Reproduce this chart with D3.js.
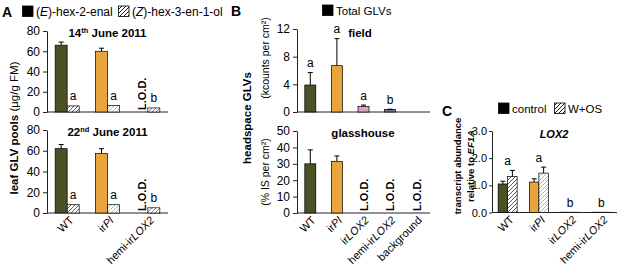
<!DOCTYPE html>
<html>
<head>
<meta charset="utf-8">
<script src="https://cdn.jsdelivr.net/npm/d3@7"></script>
<style>
  body { margin: 0; background: #fff; }
  svg { display: block; font-family: "Liberation Sans", Arial, sans-serif; }
</style>
</head>
<body>
<div id="chart"></div>
<script>
// ---------- data ----------
// Panel A: leaf GLV pools, null = below limit of detection
const genotypesA = ["WT", "irPI", "hemi-irLOX2"];
const enal14 = [66, 60, null];
const enal14Err = [3, 3, null];
const enol14 = [6, 6.5, 4];
const enal22 = [62, 57.5, null];
const enal22Err = [4, 4.5, null];
const enol22 = [8, 8, 5];
const lettersA = ["a", "a", "b"];
const ticksA = [0, 20, 40, 60, 80];

// Panel B: headspace GLVs
const genotypesB = ["WT", "irPI", "irLOX2", "hemi-irLOX2", "background"];
const fieldGLV = [3.9, 6.7, 0.8, 0.35, null];
const fieldErr = [1.8, 3.9, 0.2, 0.05, null];
const fieldLetters = ["a", "a", "a", "b", ""];
const glassGLV = [30, 31.5, null, null, null];
const glassErr = [8.5, 3.3, null, null, null];
const ticksField = [0, 4, 8, 12];
const ticksGlass = [0, 10, 20, 30, 40, 50];

// Panel C: LOX2 transcripts
const genotypesC = ["WT", "irPI", "irLOX2", "hemi-irLOX2"];
const lox2Control = [1.05, 1.12, 0.01, 0.01];
const lox2ControlErr = [0.1, 0.12, 0, 0];
const lox2WOS = [1.33, 1.45, 0.01, 0.01];
const lox2WOSErr = [0.22, 0.22, 0, 0];
const lettersC = ["a", "a", "b", "b"];
const ticksC = [0, 1, 2, 3];

const colors = {
  "WT": "#4b5125",
  "irPI": "#e8a53e",
  "irLOX2": "#d9a3c1",
  "hemi-irLOX2": "#7a7197",
  "background": "#999999"
};

// ---------- setup ----------
const svg = d3.select("#chart").append("svg")
  .attr("width", 617)
  .attr("height", 271);

svg.append("rect").attr("width", 617).attr("height", 271).attr("fill", "#fff");

const defs = svg.append("defs");

// diagonal hatch pattern in a given colour
function hatchId(color) {
  const id = "hatch" + color.replace("#", "");
  if (defs.select("#" + id).empty()) {
    const p = defs.append("pattern")
      .attr("id", id)
      .attr("patternUnits", "userSpaceOnUse")
      .attr("width", 4)
      .attr("height", 4);
    p.append("rect").attr("width", 4).attr("height", 4).attr("fill", "#fff");
    p.append("path")
      .attr("d", "M-1,1 l2,-2 M0,4 l4,-4 M3,5 l2,-2")
      .attr("stroke", color)
      .attr("stroke-width", 0.9);
  }
  return `url(#${id})`;
}

// split "irPI" etc. into plain + italic pieces
function labelParts(name) {
  const m = name.match(/^(.*ir)(PI|LOX2)$/);
  return m ? [[m[1], false], [m[2], true]] : [[name, false]];
}

function yAxis(y, x0, ticks, size, tick, pad) {
  const g = svg.append("g")
    .attr("transform", `translate(${x0},0)`)
    .call(d3.axisLeft(y).tickValues(ticks).tickSize(tick).tickSizeOuter(0).tickPadding(pad));
  g.attr("font-family", null).attr("font-size", null);
  g.selectAll("text").attr("font-size", size).attr("fill", "#000");
  g.selectAll("line,path").attr("stroke", "#222");
}

function baseline(x, y) {
  svg.append("line")
    .attr("x1", x.range()[0]).attr("x2", x.range()[1])
    .attr("y1", y(0)).attr("y2", y(0))
    .attr("stroke", "#222");
}

function bars(x, y, names, values, offset, w, fillFn) {
  svg.append("g").selectAll("rect")
    .data(names.map((n, i) => ({n, v: values[i]})).filter(d => d.v !== null))
    .join("rect")
    .attr("x", d => x(d.n) + x.bandwidth() / 2 + offset)
    .attr("width", w)
    .attr("y", d => y(d.v))
    .attr("height", d => y(0) - y(d.v))
    .attr("fill", d => fillFn(d.n))
    .attr("stroke", "#000")
    .attr("stroke-width", 0.7);
}

function errorBars(x, y, names, values, errs, offset) {
  const data = names.map((n, i) => ({n, v: values[i], e: errs[i]}))
    .filter(d => d.v !== null && d.e);
  const g = svg.append("g").attr("stroke", "#000").attr("stroke-width", 1);
  g.selectAll(".stem").data(data).join("line")
    .attr("x1", d => x(d.n) + x.bandwidth() / 2 + offset)
    .attr("x2", d => x(d.n) + x.bandwidth() / 2 + offset)
    .attr("y1", d => y(d.v)).attr("y2", d => y(d.v + d.e));
  g.selectAll(".cap").data(data).join("line")
    .attr("x1", d => x(d.n) + x.bandwidth() / 2 + offset - 2.5)
    .attr("x2", d => x(d.n) + x.bandwidth() / 2 + offset + 2.5)
    .attr("y1", d => y(d.v + d.e)).attr("y2", d => y(d.v + d.e));
}

function letters(x, y, names, lets, tops, offset) {
  svg.append("g").selectAll("text")
    .data(names.map((n, i) => ({n, t: lets[i], top: tops[i]})).filter(d => d.t))
    .join("text")
    .attr("x", d => x(d.n) + x.bandwidth() / 2 + offset)
    .attr("y", d => y(d.top) - 5.5)
    .attr("text-anchor", "middle")
    .attr("font-size", 12)
    .text(d => d.t);
}

// rotated "L.O.D." where a value is missing
function lod(x, y, names, values, offset, skip) {
  svg.append("g").selectAll("text")
    .data(names.filter((n, i) => values[i] === null && n !== skip))
    .join("text")
    .attr("transform", d => `translate(${x(d) + x.bandwidth() / 2 + offset + 4},${y(0) - 2}) rotate(-90)`)
    .attr("font-size", 11)
    .attr("font-weight", "bold")
    .text("L.O.D.");
}

function xLabels(x, y, names, dx) {
  const t = svg.append("g").selectAll("text")
    .data(names)
    .join("text")
    .attr("transform", d => `translate(${x(d) + x.bandwidth() / 2 + dx},${y(0) + 8}) rotate(-45)`)
    .attr("text-anchor", "end")
    .attr("font-size", 11);
  t.each(function (d) {
    labelParts(d).forEach(([s, it]) => {
      d3.select(this).append("tspan").attr("font-style", it ? "italic" : null).text(s);
    });
  });
}

function title(x, y, parts, size) {
  const t = svg.append("text").attr("x", x).attr("y", y)
    .attr("text-anchor", "middle").attr("font-size", size).attr("font-weight", "bold");
  parts.forEach(([s, sup]) => {
    t.append("tspan")
      .attr("font-size", sup ? size * 0.65 : null)
      .attr("dy", sup ? -4 : (sup === false ? 4 : 0))
      .text(s);
  });
}

function vText(x, y, parts, size) {
  const t = svg.append("text")
    .attr("transform", `translate(${x},${y}) rotate(-90)`)
    .attr("text-anchor", "middle")
    .attr("font-size", size);
  parts.forEach(([s, bold, it]) => {
    t.append("tspan")
      .attr("font-weight", bold ? "bold" : null)
      .attr("font-style", it ? "italic" : null)
      .text(s);
  });
}

function panelLabel(x, y, s) {
  svg.append("text").attr("x", x).attr("y", y)
    .attr("font-size", 14).attr("font-weight", "bold").text(s);
}

function legendBox(x, y, fill, label, size, italicFirst) {
  svg.append("rect").attr("x", x).attr("y", y).attr("width", 10.5).attr("height", 10.5)
    .attr("fill", fill).attr("stroke", "#000").attr("stroke-width", 0.8);
  const t = svg.append("text").attr("x", x + 13.5).attr("y", y + 10).attr("font-size", size);
  if (italicFirst) {
    t.append("tspan").text("(");
    t.append("tspan").attr("font-style", "italic").text(italicFirst);
    t.append("tspan").text(label);
  } else {
    t.text(label);
  }
}

// ---------- panel A ----------
const xA = d3.scaleBand().domain(genotypesA).range([47, 168]);
const yA1 = d3.scaleLinear().domain([0, 80]).range([112, 31]);
const yA2 = d3.scaleLinear().domain([0, 80]).range([213, 130]);
const wA = 12;

panelLabel(2, 17, "A");
legendBox(22.5, 6, "#000", ")-hex-2-enal", 12, "E");
legendBox(118.5, 6, hatchId("#000"), ")-hex-3-en-1-ol", 12, "Z");

[[yA1, enal14, enal14Err, enol14], [yA2, enal22, enal22Err, enol22]].forEach(([y, enal, enalErr, enol]) => {
  yAxis(y, xA.range()[0], ticksA, 12, 4, 3);
  baseline(xA, y);
  bars(xA, y, genotypesA, enal, -wA, wA, n => colors[n]);
  bars(xA, y, genotypesA, enol, 0, wA, n => hatchId(colors[n]));
  errorBars(xA, y, genotypesA, enal, enalErr, -wA / 2);
  letters(xA, y, genotypesA, lettersA, enol, wA / 2);
  lod(xA, y, genotypesA, enal, -wA / 2);
});
title(107.5, 37, [["14", null], ["th", true], [" June 2011", false]], 11.5);
title(107.5, 136, [["22", null], ["nd", true], [" June 2011", false]], 11.5);
xLabels(xA, yA2, genotypesA, 7);
vText(18, 128, [["leaf GLV pools ", true], ["(\u00b5g/g FM)", false]], 11.5);

// ---------- panel B ----------
const xB = d3.scaleBand().domain(genotypesB).range([297, 430]);
const yB1 = d3.scaleLinear().domain([0, 12]).range([112, 29]);
const yB2 = d3.scaleLinear().domain([0, 50]).range([213, 131]);
const wB = 11;

panelLabel(231, 16, "B");
legendBox(322.5, 5, "#000", "Total GLVs", 11.5);

yAxis(yB1, xB.range()[0], ticksField, 12, 4, 3);
baseline(xB, yB1);
bars(xB, yB1, genotypesB, fieldGLV, -wB / 2, wB, n => colors[n]);
errorBars(xB, yB1, genotypesB, fieldGLV, fieldErr, 0);
letters(xB, yB1, genotypesB, fieldLetters, fieldGLV.map((v, i) => v === null ? 0 : v + fieldErr[i]), 0);

yAxis(yB2, xB.range()[0], ticksGlass, 12, 4, 3);
baseline(xB, yB2);
bars(xB, yB2, genotypesB, glassGLV, -wB / 2, wB, n => colors[n]);
errorBars(xB, yB2, genotypesB, glassGLV, glassErr, 0);
lod(xB, yB2, genotypesB, glassGLV, 0);

title(360, 37, [["field", null]], 11.5);
title(363, 137, [["glasshouse", null]], 11.5);
xLabels(xB, yB2, genotypesB, 6);
vText(251, 118, [["headspace GLVs", true]], 11.5);
vText(269, 58, [["(kcounts per cm\u00b2)", false]], 10.5);
vText(269, 172, [["(% IS per cm\u00b2)", false]], 10.5);

// ---------- panel C ----------
const xC = d3.scaleBand().domain(genotypesC).range([492, 617]);
const yC = d3.scaleLinear().domain([0, 3]).range([212.5, 131]);
const wC = 9.5;

panelLabel(442, 116, "C");
legendBox(498.5, 103, "#000", "control", 11.5);
legendBox(554.5, 103, hatchId("#000"), "W+OS", 11.5);

yAxis(yC, xC.range()[0], ticksC, 11, 3, 2);
baseline(xC, yC);
bars(xC, yC, genotypesC, lox2Control, -wC, wC, n => colors[n]);
bars(xC, yC, genotypesC, lox2WOS, 0, wC, n => hatchId(colors[n]));
errorBars(xC, yC, genotypesC, lox2Control, lox2ControlErr, -wC / 2);
errorBars(xC, yC, genotypesC, lox2WOS, lox2WOSErr, wC / 2);
letters(xC, yC, genotypesC, lettersC,
  lox2WOS.map((v, i) => Math.max(v + lox2WOSErr[i], lox2Control[i] + lox2ControlErr[i])), 0);

svg.append("text").attr("x", 554).attr("y", 138)
  .attr("text-anchor", "middle").attr("font-size", 11)
  .attr("font-weight", "bold").attr("font-style", "italic").text("LOX2");
xLabels(xC, yC, genotypesC, 7);
vText(461, 166, [["transcript abundance", true]], 9.5);
vText(474, 166, [["relative to ", true], ["EF1A", true, true]], 9.5);
</script>
</body>
</html>
